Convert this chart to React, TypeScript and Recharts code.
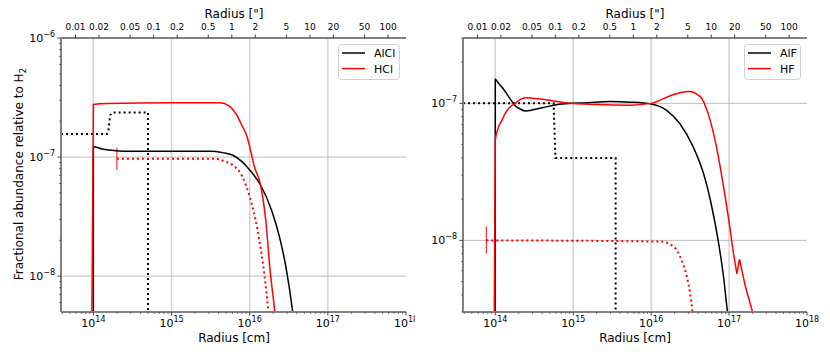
import React from 'react';
import { LineChart, Line, XAxis, YAxis, ReferenceLine, Legend } from 'recharts';

const FONT = '"DejaVu Sans", Verdana, sans-serif';
const SPINE = { stroke: '#808080', strokeWidth: 2 };
const TICK_COLOR = '#444';

// radius axis (cm) and the arcsec conversion used for the top axis
const X_MIN = 3.85e13;
const X_MAX = 1e18;
const CM_PER_ARCSEC = 5.9e15;

const X_MAJOR = [1e14, 1e15, 1e16, 1e17, 1e18];
const ARCSEC_TICKS = [0.01, 0.02, 0.05, 0.1, 0.2, 0.5, 1, 2, 5, 10, 20, 50, 100];

const minorsOf = (decades: number[], from = 2) =>
  decades.flatMap((d) => [2, 3, 4, 5, 6, 7, 8, 9].filter((m) => m >= from).map((m) => m * d));

const X_MINOR = [...minorsOf([1e13], 4), ...minorsOf([1e14, 1e15, 1e16, 1e17])];

// left panel (chlorine)
const LEFT_Y_MAJOR = [1e-8, 1e-7, 1e-6];
const LEFT_Y_MINOR = [...minorsOf([1e-9], 6), ...minorsOf([1e-8, 1e-7])];

const ALCL_MODEL: [number, number][] = [
  [9.97e13, 1e-9], [1e14, 1.22e-7], [1.3e14, 1.17e-7], [1.7e14, 1.14e-7], [2.5e14, 1.12e-7],
  [1e15, 1.12e-7], [3.3e15, 1.12e-7], [4.5e15, 1.09e-7], [6e15, 1.04e-7], [7.9e15, 9.2e-8],
  [1e16, 7.8e-8], [1.38e16, 5.8e-8], [1.9e16, 3.6e-8], [2.4e16, 2.15e-8], [2.95e16, 1.13e-8],
  [3.55e16, 5e-9], [3.7e16, 4e-9],
];
const ALCL_OBS: [number, number][] = [
  [X_MIN, 1.56e-7], [1.49e14, 1.56e-7], [1.55e14, 1.63e-7], [1.59e14, 1.91e-7], [1.64e14, 2.25e-7],
  [1.76e14, 2.37e-7], [5e14, 2.37e-7], [5e14, 1e-9],
];
const HCL_MODEL: [number, number][] = [
  [9.4e13, 1e-9], [1e14, 2.77e-7], [1.5e14, 2.82e-7], [1e15, 2.86e-7], [4.1e15, 2.86e-7],
  [5.5e15, 2.68e-7], [6.7e15, 2.3e-7], [8.1e15, 1.8e-7], [9.1e15, 1.53e-7], [1e16, 1.22e-7],
  [1.15e16, 8.3e-8], [1.38e16, 5.8e-8], [1.62e16, 2.78e-8], [1.82e16, 1.13e-8], [2.09e16, 5e-9],
  [2.15e16, 4e-9],
];
const HCL_OBS: [number, number][] = [
  [2e14, 9.68e-8], [3.7e15, 9.68e-8], [4.8e15, 9.2e-8], [6e15, 8.6e-8], [8.1e15, 6.8e-8],
  [1e16, 4.65e-8], [1.26e16, 2.44e-8], [1.55e16, 1e-8], [1.74e16, 5e-9], [1.8e16, 4e-9],
];
const HCL_BAR: [number, number][] = [[2e14, 7.8e-8], [2e14, 1.2e-7]];

// right panel (fluorine)
const RIGHT_Y_MAJOR = [1e-8, 1e-7];
const RIGHT_Y_MINOR = [...minorsOf([1e-9], 3), ...minorsOf([1e-8]), 2e-7, 3e-7];

const ALF_MODEL: [number, number][] = [
  [9.98e13, 1e-9], [1e14, 1.5e-7], [1.1e14, 1.4e-7], [1.22e14, 1.31e-7], [1.34e14, 1.22e-7],
  [1.48e14, 1.12e-7], [1.64e14, 1.03e-7], [1.8e14, 9.6e-8], [2.09e14, 9.1e-8], [2.43e14, 8.8e-8],
  [4e14, 9.3e-8], [7.2e14, 9.9e-8], [1.5e15, 1.01e-7], [3e15, 1.03e-7], [5.4e15, 1.02e-7],
  [1e16, 9.9e-8], [1.58e16, 8.9e-8], [2.34e16, 7.1e-8], [3.47e16, 4.8e-8], [4.68e16, 3.1e-8],
  [6e16, 1.76e-8], [7.24e16, 1e-8], [8.5e16, 5.4e-9], [9.55e16, 3e-9], [1e17, 2.5e-9],
];
const ALF_OBS: [number, number][] = [
  [X_MIN, 1e-7], [5.6e14, 1e-7], [5.9e14, 4e-8], [3.5e15, 4e-8], [3.5e15, 1e-9],
];
const HF_MODEL: [number, number][] = [
  [9.6e13, 1e-9], [1e14, 5.4e-8], [1.05e14, 6.2e-8], [1.1e14, 6.75e-8], [1.22e14, 7.55e-8],
  [1.34e14, 8.45e-8], [1.56e14, 9.45e-8], [1.8e14, 1e-7], [2.09e14, 1.07e-7], [2.43e14, 1.1e-7],
  [4e14, 1.07e-7], [7.9e14, 1.01e-7], [2e15, 9.8e-8], [5.4e15, 9.7e-8], [1e16, 1e-7],
  [1.95e16, 1.16e-7], [3e16, 1.22e-7], [4.27e16, 1.12e-7], [5.37e16, 8.45e-8], [6.9e16, 4.8e-8],
  [8.5e16, 2.46e-8], [1.02e17, 1.26e-8], [1.14e17, 8e-9],
];
// the jagged outer tail of the HF model
const HF_TAIL: [number, number][] = [
  [1.14e17, 8e-9], [1.26e17, 5.7e-9], [1.36e17, 7.3e-9], [1.62e17, 4.6e-9], [2e17, 3e-9], [2.1e17, 2.6e-9],
];
const HF_OBS: [number, number][] = [
  [7.67e13, 1e-8], [1.32e16, 9.8e-9], [1.95e16, 9e-9], [2.45e16, 7.2e-9], [2.88e16, 5.4e-9],
  [3.16e16, 4.1e-9], [3.39e16, 3e-9], [3.5e16, 2.5e-9],
];
const HF_BAR: [number, number][] = [[7.67e13, 8e-9], [7.67e13, 1.26e-8]];

type Series = { pts: [number, number][]; color: string; dotted?: boolean; width?: number; smooth?: boolean };

const LEFT_SERIES: Series[] = [
  { pts: ALCL_OBS, color: '#000', dotted: true },
  { pts: HCL_OBS, color: '#ff0000', dotted: true, smooth: true },
  { pts: HCL_BAR, color: '#ff0000', width: 1 },
  { pts: ALCL_MODEL, color: '#000', smooth: true },
  { pts: HCL_MODEL, color: '#ff0000', smooth: true },
];
const RIGHT_SERIES: Series[] = [
  { pts: ALF_OBS, color: '#000', dotted: true },
  { pts: HF_OBS, color: '#ff0000', dotted: true, smooth: true },
  { pts: HF_BAR, color: '#ff0000', width: 1 },
  { pts: ALF_MODEL, color: '#000', smooth: true },
  { pts: HF_MODEL, color: '#ff0000', smooth: true },
  { pts: HF_TAIL, color: '#ff0000' },
];

const LEFT_LEGEND = [{ name: 'AlCl', color: '#000' }, { name: 'HCl', color: '#ff0000' }];
const RIGHT_LEGEND = [{ name: 'AlF', color: '#000' }, { name: 'HF', color: '#ff0000' }];

const exponent = (v: number) => {
  const e = Math.round(Math.log10(v));
  return e < 0 ? `\u2212${-e}` : `${e}`;
};

const BottomTick = (props: any) => {
  const { x, y, payload } = props;
  const major = X_MAJOR.includes(payload.value);
  return (
    <g>
      <line x1={x} x2={x} y1={y} y2={y + (major ? 3.5 : 2)} stroke={TICK_COLOR} strokeWidth={major ? 1 : 0.7} />
      {major && (
        <text x={x} y={y + 15} textAnchor="middle" fontSize={11} fill="#000" fontFamily={FONT}>
          10<tspan dy={-5} fontSize={8}>{exponent(payload.value)}</tspan>
        </text>
      )}
    </g>
  );
};

const TopTick = (props: any) => {
  const { x, y, payload } = props;
  return (
    <g>
      <line x1={x} x2={x} y1={y} y2={y - 3.5} stroke={TICK_COLOR} strokeWidth={1} />
      <text x={x} y={y - 8} textAnchor="middle" fontSize={9} fill="#000" fontFamily={FONT}>
        {payload.value}
      </text>
    </g>
  );
};

const makeLeftTick = (majors: number[]) => (props: any) => {
  const { x, y, payload } = props;
  const major = majors.includes(payload.value);
  return (
    <g>
      <line x1={x} x2={x - (major ? 3.5 : 2)} y1={y} y2={y} stroke={TICK_COLOR} strokeWidth={major ? 1 : 0.7} />
      {major && (
        <text x={x - 6} y={y + 4} textAnchor="end" fontSize={11} fill="#000" fontFamily={FONT}>
          10<tspan dy={-5} fontSize={8}>{exponent(payload.value)}</tspan>
        </text>
      )}
    </g>
  );
};

const LegendBox = ({ items, width }: { items: { name: string; color: string }[]; width: number }) => (
  <svg width={width} height={36} style={{ display: 'block' }}>
    <rect x={0.5} y={0.5} width={width - 1} height={35} rx={3} fill="rgba(255,255,255,0.85)" stroke="#d0d0d0" />
    {items.map((it, i) => (
      <g key={it.name}>
        <line x1={4} x2={27} y1={9 + i * 15.6} y2={9 + i * 15.6} stroke={it.color} strokeWidth={1.5} />
        <text x={36} y={13 + i * 15.6} fontSize={11} fill="#000" fontFamily={FONT}>{it.name}</text>
      </g>
    ))}
  </svg>
);

type PanelProps = {
  left: number;
  margin: { top: number; right: number; bottom: number; left: number };
  yDomain: [number, number];
  yMajor: number[];
  yMinor: number[];
  series: Series[];
  legend: { name: string; color: string }[];
  legendPos: { left: number; top: number; width: number };
  titleX: number;
  yLabel?: boolean;
};

// invisible helper so the arcsec axis gets its scale
const ARCSEC_SPAN = [{ r: X_MIN / CM_PER_ARCSEC, a: 1e-7 }, { r: X_MAX / CM_PER_ARCSEC, a: 1e-7 }];

const Panel = ({ left, margin, yDomain, yMajor, yMinor, series, legend, legendPos, titleX, yLabel }: PanelProps) => (
  <div style={{ position: 'absolute', left, top: 0 }}>
    <LineChart width={415} height={357} margin={margin}>
      <XAxis
        xAxisId="cm" dataKey="r" type="number" scale="log" domain={[X_MIN, X_MAX]} allowDataOverflow
        ticks={[...X_MINOR, ...X_MAJOR].sort((a, b) => a - b)} interval={0} tickSize={0} tickMargin={0}
        tickLine={false} tick={BottomTick} axisLine={SPINE} height={45}
        label={() => (
          <text x={titleX} y={342} textAnchor="middle" fontSize={12} fill="#000" fontFamily={FONT}>Radius [cm]</text>
        )}
      />
      <XAxis
        xAxisId="arcsec" dataKey="r" orientation="top" type="number" scale="log"
        domain={[X_MIN / CM_PER_ARCSEC, X_MAX / CM_PER_ARCSEC]} allowDataOverflow
        ticks={ARCSEC_TICKS} interval={0} tickSize={0} tickMargin={0} tickLine={false} tick={TopTick}
        axisLine={SPINE} height={38}
        label={() => (
          <text x={titleX} y={18} textAnchor="middle" fontSize={12} fill="#000" fontFamily={FONT}>Radius ["]</text>
        )}
      />
      <YAxis
        yAxisId="ab" type="number" scale="log" domain={yDomain} allowDataOverflow
        ticks={[...yMinor, ...yMajor].sort((a, b) => a - b)} interval={0} tickSize={0} tickMargin={0}
        tickLine={false} tick={makeLeftTick(yMajor)} axisLine={SPINE} width={40}
        label={yLabel ? () => (
          <text transform="translate(23,174) rotate(-90)" textAnchor="middle" fontSize={12} fill="#000" fontFamily={FONT}>
            Fractional abundance relative to H<tspan dy={3} fontSize={9}>2</tspan>
          </text>
        ) : undefined}
      />
      <YAxis yAxisId="frame" orientation="right" type="number" domain={[0, 1]} width={0} tick={false} tickLine={false} axisLine={SPINE} />
      {X_MAJOR.slice(0, 4).map((v) => (
        <ReferenceLine key={`gx${v}`} xAxisId="cm" yAxisId="ab" x={v} stroke="#d2d2d2" strokeWidth={1.5} />
      ))}
      {yMajor.filter((v) => v > yDomain[0] && v < yDomain[1]).map((v) => (
        <ReferenceLine key={`gy${v}`} xAxisId="cm" yAxisId="ab" y={v} stroke="#bdbdbd" strokeWidth={1} />
      ))}
      <Line
        xAxisId="arcsec" yAxisId="ab" data={ARCSEC_SPAN} dataKey="a" stroke="none" dot={false}
        activeDot={false} isAnimationActive={false} legendType="none"
      />
      {series.map((s, i) => (
        <Line
          key={i} xAxisId="cm" yAxisId="ab" data={s.pts.map(([r, a]) => ({ r, a }))} dataKey="a"
          type={s.smooth ? 'monotone' : 'linear'} dot={false} activeDot={false} stroke={s.color}
          strokeWidth={s.dotted ? 2 : s.width ?? 1.5} strokeDasharray={s.dotted ? '2 3' : undefined}
          isAnimationActive={false} legendType="none"
        />
      ))}
      <Legend
        layout="vertical" align="center" verticalAlign="middle"
        wrapperStyle={{ left: legendPos.left, top: legendPos.top, width: legendPos.width }}
        content={() => <LegendBox items={legend} width={legendPos.width} />}
      />
    </LineChart>
  </div>
);

export default function App() {
  return (
    <div style={{ position: 'absolute', left: 0, top: 0, width: 830, height: 357, background: '#fff', overflow: 'hidden' }}>
      <Panel
        left={0}
        margin={{ top: 0, right: 9, bottom: 0, left: 21 }}
        yDomain={[5e-9, 1e-6]}
        yMajor={LEFT_Y_MAJOR}
        yMinor={LEFT_Y_MINOR}
        series={LEFT_SERIES}
        legend={LEFT_LEGEND}
        legendPos={{ left: 338, top: 44, width: 62 }}
        titleX={234}
        yLabel
      />
      <Panel
        left={415}
        margin={{ top: 0, right: 23, bottom: 0, left: 8 }}
        yDomain={[3e-9, 3e-7]}
        yMajor={RIGHT_Y_MAJOR}
        yMinor={RIGHT_Y_MINOR}
        series={RIGHT_SERIES}
        legend={RIGHT_LEGEND}
        legendPos={{ left: 329, top: 44, width: 57 }}
        titleX={220}
      />
    </div>
  );
}
